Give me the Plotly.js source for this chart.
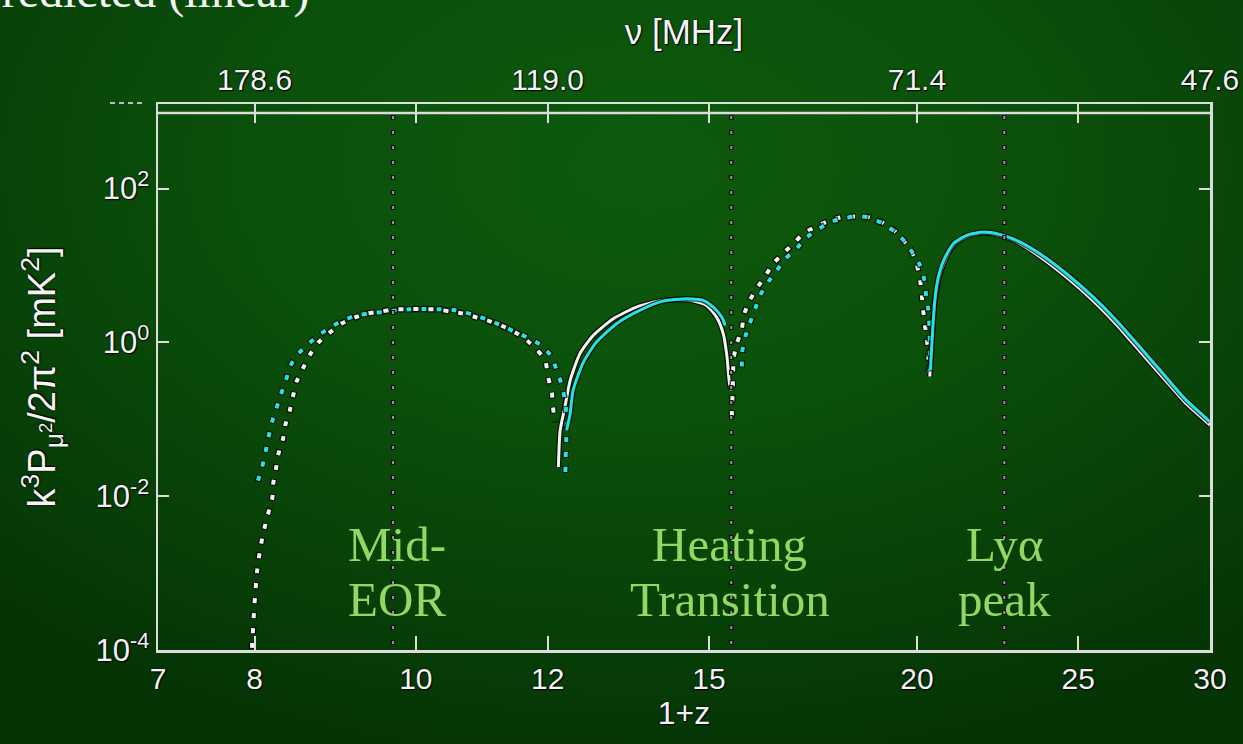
<!DOCTYPE html>
<html>
<head>
<meta charset="utf-8">
<script src="https://cdn.plot.ly/plotly-3.0.1.min.js"></script>
<style>
  html, body { margin: 0; padding: 0; width: 1243px; height: 744px; overflow: hidden; }
  body { background: radial-gradient(ellipse 75% 80% at 52% 22%, #0e5a0c 0%, #0a4f0a 45%, #073f07 80%, #053405 100%); }
  #chart { width: 1243px; height: 744px; }
</style>
</head>
<body>
<div id="chart"></div>
<script>
// 1+z tick marks (bottom axis) and the matching frequency labels (top axis)
const zTickVals = [7, 8, 10, 12, 15, 20, 25, 30];
const zTickText = ['7', '8', '10', '12', '15', '20', '25', '30'];
const nuTickVals = [8, 12, 20, 30];
const nuTickText = ['178.6', '119.0', '71.4', '47.6'];
const nuMinorVals = [10, 15, 25];

// power tick labels
const pTickVals = [1e-4, 1e-2, 1, 1e2];
const pTickText = ['10<sup>-4</sup>', '10<sup>-2</sup>', '10<sup>0</sup>', '10<sup>2</sup>'];

// epochs marked by vertical dotted lines
const epochZ = [9.69, 15.47, 22.57];
const epochTop = ['Mid-', 'Heating', 'Lyα'];
const epochBottom = ['EOR', 'Transition', 'peak'];

// white model: dotted where the term is negative, solid where positive
const zWhiteA = [7.97, 7.98, 7.99, 8.00, 8.03, 8.07, 8.13, 8.20, 8.21, 8.24, 8.27, 8.32, 8.35, 8.40, 8.44, 8.48, 8.56, 8.64, 8.74, 8.88, 9.03, 9.19, 9.36, 9.54, 9.72, 9.91, 10.10, 10.28, 10.48, 10.67, 10.88, 11.08, 11.28, 11.50, 11.66, 11.82, 11.96, 12.01, 12.07, 12.09, 12.12];
const pWhiteA = [1.0e-4, 1.6e-4, 2.6e-4, 4.0e-4, 1.1e-3, 2.3e-3, 4.8e-3, 9.6e-3, 0.0147, 0.0223, 0.036, 0.0548, 0.0859, 0.1305, 0.205, 0.311, 0.473, 0.698, 1.0, 1.35, 1.77, 2.11, 2.38, 2.53, 2.69, 2.71, 2.71, 2.69, 2.53, 2.38, 2.11, 1.88, 1.62, 1.31, 1.06, 0.81, 0.58, 0.35, 0.224, 0.143, 0.091];
const zWhiteB = [12.18, 12.21, 12.29, 12.38, 12.55, 12.78, 13.14, 13.57, 14.08, 14.61, 14.95, 15.16, 15.30, 15.38, 15.43, 15.47];
const pWhiteB = [0.024, 0.072, 0.144, 0.321, 0.719, 1.23, 2.03, 2.88, 3.52, 3.52, 3.03, 2.13, 1.30, 0.644, 0.30, 0.238];
const zWhiteC = [15.48, 15.50, 15.51, 15.52, 15.59, 15.70, 15.74, 15.87, 16.02, 16.21, 16.39, 16.63, 16.86, 17.09, 17.37, 17.70, 18.03, 18.36, 18.70, 19.05, 19.36, 19.63, 19.86, 20.00, 20.09, 20.14, 20.18, 20.23, 20.28, 20.32, 20.33];
const pWhiteC = [0.103, 0.23, 0.372, 0.614, 0.962, 1.51, 2.24, 3.52, 4.99, 7.21, 10.5, 14.5, 19.2, 25.9, 31.6, 37.8, 42.6, 43.5, 42.6, 36.7, 29.2, 21.2, 14.9, 10.0, 6.40, 3.96, 2.48, 1.58, 1.06, 0.68, 0.41];
const zWhiteD = [20.36, 20.40, 20.45, 20.52, 20.62, 20.78, 21.05, 21.44, 21.92, 22.43, 22.96, 23.71, 24.60, 25.53, 26.36, 27.23, 28.12, 29.04, 29.86, 30.0];
const pWhiteD = [0.36, 0.85, 1.9, 3.7, 6.8, 11.2, 18.6, 24.0, 26.5, 24.6, 20.3, 13.0, 7.0, 3.45, 1.70, 0.76, 0.345, 0.158, 0.092, 0.084];

// cyan model, same convention
const zCyanA = [8.03, 8.08, 8.12, 8.15, 8.19, 8.24, 8.29, 8.35, 8.40, 8.48, 8.60, 8.74, 8.90, 9.04, 9.21, 9.39, 9.56, 9.74, 9.93, 10.12, 10.31, 10.51, 10.70, 10.90, 11.10, 11.31, 11.53, 11.71, 11.90, 12.07, 12.15, 12.24, 12.29, 12.32, 12.31, 12.30, 12.30];
const pCyanA = [0.015, 0.0228, 0.0357, 0.0543, 0.0877, 0.131, 0.200, 0.305, 0.477, 0.678, 0.914, 1.23, 1.61, 1.93, 2.24, 2.40, 2.48, 2.61, 2.69, 2.72, 2.70, 2.66, 2.46, 2.18, 1.89, 1.58, 1.30, 1.12, 0.914, 0.644, 0.433, 0.276, 0.176, 0.107, 0.0458, 0.0277, 0.0177];
const zCyanB = [12.32, 12.38, 12.43, 12.61, 12.84, 13.20, 13.63, 14.08, 14.54, 14.88, 15.09, 15.27, 15.34];
const pCyanB = [0.072, 0.119, 0.238, 0.555, 1.01, 1.75, 2.61, 3.44, 3.70, 3.52, 2.88, 2.13, 1.66];
const zCyanC = [15.70, 15.70, 15.77, 15.87, 15.99, 16.10, 16.28, 16.48, 16.67, 16.90, 17.13, 17.41, 17.74, 18.07, 18.40, 18.74, 19.08, 19.41, 19.68, 19.90, 20.09, 20.20, 20.26, 20.32, 20.35, 20.36, 20.36, 20.36];
const pCyanC = [0.455, 0.713, 1.17, 1.75, 2.74, 4.08, 6.08, 8.63, 12.3, 15.7, 22.3, 28.6, 36.7, 41.0, 43.5, 42.0, 35.0, 27.2, 20.2, 14.2, 10.0, 6.73, 3.96, 2.61, 1.58, 1.01, 0.62, 0.41];
const zCyanD = [20.38, 20.41, 20.46, 20.51, 20.60, 20.75, 21.03, 21.42, 21.92, 22.43, 22.96, 23.71, 24.60, 25.53, 26.36, 27.23, 28.12, 29.04, 29.86, 30.0];
const pCyanD = [0.45, 0.79, 1.93, 3.88, 7.06, 11.6, 19.2, 24.6, 27.2, 25.4, 21.2, 14.2, 7.82, 3.88, 1.93, 0.87, 0.39, 0.176, 0.102, 0.092];

const WHITE = '#f4f4f4';
const CYAN = '#22e4e4';
const HALO = 'rgba(0,0,0,0.75)';
// dotted segments: a dark dash slightly longer than the bright one, same 15px period
const DOT_FG = '0px,2px,5px,8px';
const DOT_BG = '0px,1px,7px,7px';

function seg(x, y, color, dotted, halo) {
  return {
    x: x, y: y, type: 'scatter', mode: 'lines', hoverinfo: 'skip', showlegend: false,
    line: {
      color: halo ? HALO : color,
      width: halo ? (dotted ? 6.5 : 5.5) : (dotted ? 4 : 3),
      dash: dotted ? (halo ? DOT_BG : DOT_FG) : 'solid',
      shape: 'spline', smoothing: 0.6
    }
  };
}

const series = [
  [zWhiteA, pWhiteA, WHITE, true],
  [zWhiteB, pWhiteB, WHITE, false],
  [zWhiteC, pWhiteC, WHITE, true],
  [zWhiteD, pWhiteD, WHITE, false],
  [zCyanA, pCyanA, CYAN, true],
  [zCyanB, pCyanB, CYAN, false],
  [zCyanC, pCyanC, CYAN, true],
  [zCyanD, pCyanD, CYAN, false]
];

const traces = [];
series.forEach(s => {
  traces.push(seg(s[0], s[1], s[2], s[3], true));
  traces.push(seg(s[0], s[1], s[2], s[3], false));
});
// carrier for the frequency axis along the top
traces.push({ x: [], y: [], xaxis: 'x2', yaxis: 'y', type: 'scatter', mode: 'lines', showlegend: false, hoverinfo: 'skip' });

const AX = '#dcdcdc';
const textShadow = '0px 0px 2px #000, 1px 1px 1px #000';
const tickFont = { family: 'Liberation Sans, Arial, sans-serif', size: 30, color: '#f2f2f2', shadow: textShadow };
const xLo = Math.log10(7), xHi = Math.log10(30);
const innerTop = 0.9835;

const shapes = [];
epochZ.forEach(z => {
  shapes.push({ type: 'line', xref: 'x', yref: 'paper', x0: z, x1: z, y0: 0, y1: innerTop,
    line: { color: '#101010', width: 4.5, dash: '0px,5px,5px,5px' } });
  shapes.push({ type: 'line', xref: 'x', yref: 'paper', x0: z, x1: z, y0: 0, y1: innerTop,
    line: { color: '#9a9a9a', width: 2, dash: '0px,6px,3px,6px' } });
});
shapes.push({ type: 'line', xref: 'paper', yref: 'paper', x0: 0, x1: 1, y0: innerTop, y1: innerTop, line: { color: AX, width: 2.5 } });
shapes.push({ type: 'line', xref: 'paper', yref: 'paper', x0: -0.0456, x1: -0.0124, y0: 1.002, y1: 1.002, line: { color: '#bdbdbd', width: 2, dash: '5px,4px' } });

const labelFont = { family: 'Liberation Serif, Times New Roman, serif', size: 49, color: '#93d862' };
const labelX = [0.2272, 0.5437, 0.8051];
const annotations = [];
epochTop.forEach((t, i) => {
  annotations.push({ text: t, xref: 'paper', yref: 'paper', x: labelX[i], y: 0.1941, xanchor: 'center', yanchor: 'middle', showarrow: false, font: labelFont });
  annotations.push({ text: epochBottom[i], xref: 'paper', yref: 'paper', x: labelX[i], y: 0.0916, xanchor: 'center', yanchor: 'middle', showarrow: false, font: labelFont });
});
annotations.push({
  text: 'Predicted (linear)', xref: 'paper', yref: 'paper', x: -0.176, y: 1.154, xanchor: 'left', yanchor: 'bottom',
  showarrow: false, font: { family: 'Liberation Serif, Times New Roman, serif', size: 48, color: '#f4f4f4' }
});

const titleFont = { family: 'Liberation Sans, Arial, sans-serif', size: 34, color: '#f4f4f4', shadow: textShadow };

const layout = {
  width: 1243, height: 744,
  margin: { l: 158, r: 33, t: 104, b: 94 },
  paper_bgcolor: 'rgba(0,0,0,0)', plot_bgcolor: 'rgba(0,0,0,0)',
  showlegend: false,
  xaxis: {
    type: 'log', range: [xLo, xHi], tickvals: zTickVals, ticktext: zTickText,
    ticks: 'inside', ticklen: 14, tickwidth: 2, tickcolor: AX,
    showline: true, linecolor: AX, linewidth: 2.5, mirror: false,
    showgrid: false, zeroline: false, tickfont: tickFont,
    title: { text: '1+z', font: Object.assign({}, titleFont, { size: 32 }), standoff: 8 }
  },
  xaxis2: {
    type: 'log', range: [xLo, xHi], overlaying: 'x', side: 'top', anchor: 'y',
    tickvals: nuTickVals, ticktext: nuTickText,
    ticks: 'inside', ticklen: 19, tickwidth: 2, tickcolor: AX,
    minor: { tickmode: 'array', tickvals: nuMinorVals, ticks: 'inside', ticklen: 19, tickwidth: 2, tickcolor: AX, showgrid: false },
    showline: true, linecolor: AX, linewidth: 2.5,
    showgrid: false, zeroline: false, tickfont: tickFont,
    title: { text: 'ν [MHz]', font: Object.assign({}, titleFont, { size: 35 }), standoff: 8 }
  },
  yaxis: {
    type: 'log', range: [-4, 3.1], tickvals: pTickVals, ticktext: pTickText,
    ticks: 'inside', ticklen: 11, tickwidth: 2, tickcolor: AX,
    showline: true, linecolor: AX, linewidth: 2.5, mirror: 'ticks',
    showgrid: false, zeroline: false, tickfont: Object.assign({}, tickFont, { size: 31 }),
    title: { text: 'k<sup>3</sup>P<sub>μ<sup>2</sup></sub>/2π<sup>2</sup> [mK<sup>2</sup>]', font: Object.assign({}, titleFont, { size: 38 }), standoff: 28 }
  },
  shapes: shapes,
  annotations: annotations
};

Plotly.newPlot('chart', traces, layout, { displayModeBar: false, staticPlot: true });
</script>
</body>
</html>
